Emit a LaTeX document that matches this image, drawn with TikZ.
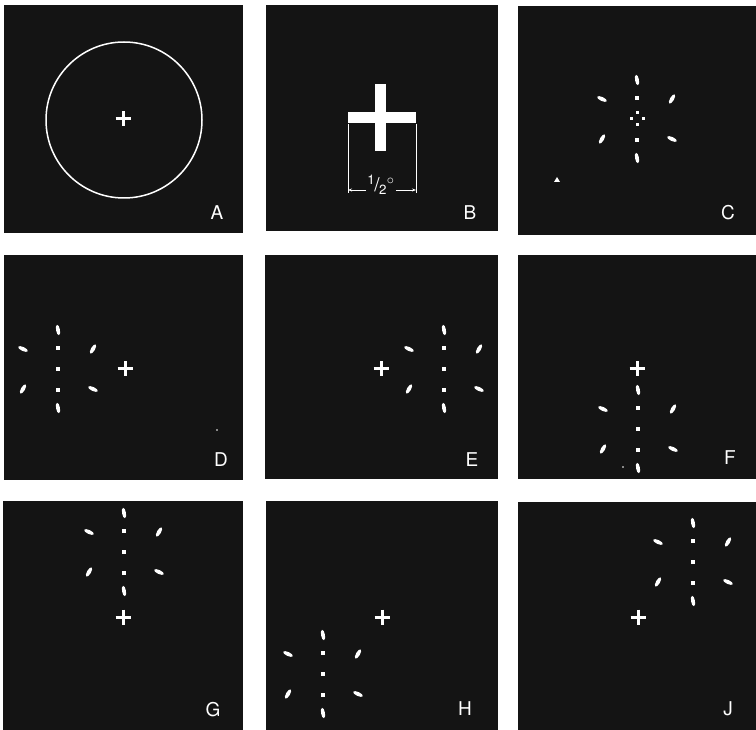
\documentclass[tikz,border=0pt]{standalone}
\usepackage{fontspec}
\setsansfont{TeX Gyre Heros}
\usetikzlibrary{shapes.geometric,arrows.meta}
\definecolor{panelbg}{HTML}{141414}

\tikzset{
	panel/.style={fill=panelbg},
	petal/.style={ellipse,fill=white,inner sep=0pt,minimum width=10.5pt,minimum height=4pt},
	dot/.style={rectangle,fill=white,inner sep=0pt,minimum size=3.5pt},
	tinydot/.style={circle,fill=white,inner sep=0pt,minimum size=1.6pt},
	panellabel/.style={text=white,font=\sffamily\fontsize{19}{19}\selectfont,inner sep=0pt},
	fixcross/.pic={\draw[white,line width=3pt] (-7.5,0) -- (7.5,0) (0,-7.5) -- (0,7.5);},
	dotcross/.pic={
		\foreach \dx/\dy in {-6/0,6/0,0/-6,0/6}
			\node[dot,minimum size=3pt] at (\dx,\dy) {};
	},
	rosette/.pic={
		\foreach \dx/\dy/\ang in {0/-39/100,-35/-20/-25,35/-20/60,-35/20/60,35/20/-25,0/39/100}
			\node[petal,rotate=\ang] at (\dx,\dy) {};
		\foreach \dy in {-21,21}
			\node[dot] at (0,\dy) {};
	}
}

\begin{document}
\begin{tikzpicture}[x=1pt,y=-1pt]
	\useasboundingbox (0,0) rectangle (756,730);
	% the nine dark panels
	\foreach \xa/\ya/\xb/\yb in {4/5/243/233,266/5/498/231,518/6/756/235,
			4/255/243/480,265/255/498/479,518/255/756/479,
			3/501/243/730,266/501/498/730,518/502/756/730}
		\fill[panel] (\xa,\ya) rectangle (\xb,\yb);

	% A
	\draw[white,line width=1.5pt] (124,120) circle (78);
	\pic at (123,119) {fixcross};
	\node[panellabel] (labA) at (217,213) {A};

	% B
	\fill[white] (348,112) rectangle (416,123);
	\fill[white] (375,84) rectangle (386,151);
	\coordinate (dimLtop) at (348,124);
	\coordinate (dimRtop) at (416,124);
	\coordinate (dimL) at (348,190);
	\coordinate (dimR) at (416,190);
	\draw[white,line width=0.8pt] (dimLtop) -- (348,193) (dimRtop) -- (416,193);
	\node[text=white,font=\sffamily\fontsize{19}{19}\selectfont,inner sep=1pt] (half) at (381,185)
		{\textsuperscript{1}\kern-1pt/\kern-0.5pt\textsubscript{2}\textsuperscript{$\circ$}};
	\draw[white,line width=0.8pt,-{Stealth[length=4pt,width=3pt]}] (half.west|-dimL) -- (dimL);
	\draw[white,line width=0.8pt,-{Stealth[length=4pt,width=3pt]}] (half.east|-dimR) -- (dimR);
	\node[panellabel] (labB) at (470,213) {B};

	% C
	\pic at (637,119) {rosette};
	\pic at (637,119) {dotcross};
	\fill[white] (554,182) -- (560,182) -- (557,177) -- cycle;
	\node[panellabel] (labC) at (728,213) {C};

	% D
	\pic at (125,369) {fixcross};
	\pic at (58,369) {rosette};
	\node[dot] at (58,369) {};
	\node[tinydot] at (217,430) {};
	\node[panellabel] (labD) at (221,460) {D};

	% E
	\pic at (381,369) {fixcross};
	\pic at (444,369) {rosette};
	\node[dot] at (444,369) {};
	\node[panellabel] (labE) at (472,460) {E};

	% F
	\pic at (637,369) {fixcross};
	\pic at (638,429) {rosette};
	\node[dot] at (638,429) {};
	\node[tinydot] at (623,467) {};
	\node[panellabel] (labF) at (730,458) {F};

	% G
	\pic at (123,617) {fixcross};
	\pic at (124,552) {rosette};
	\node[dot] at (124,552) {};
	\node[panellabel] (labG) at (213,710) {G};

	% H
	\pic at (382,617) {fixcross};
	\pic at (323,674) {rosette};
	\node[dot] at (323,674) {};
	\node[panellabel] (labH) at (465,709) {H};

	% J
	\pic at (638,617) {fixcross};
	\pic at (693,562) {rosette};
	\node[dot] at (693,562) {};
	\node[panellabel] (labJ) at (728,709) {J};
\end{tikzpicture}
\end{document}
